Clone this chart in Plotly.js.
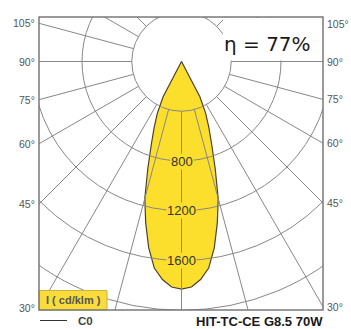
<!DOCTYPE html>
<html><head><meta charset="utf-8">
<script src="https://cdn.plot.ly/plotly-3.0.1.min.js"></script>
<style>
html,body{margin:0;padding:0;width:351px;height:329px;overflow:hidden;background:#fff;}
#clip{position:absolute;left:39px;top:17px;width:284px;height:293px;overflow:hidden;z-index:1;background:#fff;}
.pol{position:absolute;left:-156px;top:-254px;width:597px;height:597px;}
#fillfig{z-index:1;}
#gridfig{z-index:2;}
#over{position:absolute;left:0;top:0;width:351px;height:329px;z-index:3;pointer-events:none;}
</style></head><body>
<div id="clip"><div id="fillfig" class="pol"></div><div id="gridfig" class="pol"></div></div>
<div id="over"></div>
<script>
// ---- data ----
const gammaDeg    = [0, 2.5, 5, 7.5, 10, 12.5, 15, 17.5, 20, 22.5, 25, 27.5, 30];
const intensityC0 = [1830, 1815, 1760, 1675, 1520, 1330, 1140, 900, 710, 575, 460, 320, 0];
const ringValues  = [400, 800, 1200, 1600, 2000];
const ringLabelValues = [800, 1200, 1600];
const angleTicks  = [30, 45, 60, 75, 90, 105];
const spokeStep   = 15;
const efficiencyText = 'η = 77%';
const lampName    = 'HIT-TC-CE G8.5 70W';
const unitLabel   = 'I ( cd/klm )';
const planeName   = 'C0';

// ---- geometry ----
const RMAX = 2400, SIZE = 597, R = SIZE / 2;
const CX = 181.5, CY = 61.5;            // page position of the pole
const scale = R / RMAX;
const FL = 39, FR = 323, FT = 17, FB = 310;
const gridCol = '#878787';

// full symmetric C0 curve (right half then mirrored left half)
const theta = gammaDeg.slice().reverse().concat(gammaDeg.slice(1).map(g => -g));
const rr = intensityC0.slice().reverse().concat(intensityC0.slice(1));

const baseAxes = (bg) => ({
  domain:{x:[0,1],y:[0,1]}, bgcolor:bg,
  radialaxis:{range:[0,RMAX], showticklabels:false, ticks:'', showline:false, showgrid:false},
  angularaxis:{rotation:-90, direction:'counterclockwise', showticklabels:false, ticks:'',
    showline:false, showgrid:false}
});
const figLayout = (polar) => ({
  width: SIZE, height: SIZE, margin:{l:0,r:0,t:0,b:0,pad:0},
  paper_bgcolor:'rgba(0,0,0,0)', showlegend:false, polar: polar
});

// bottom layer: the yellow luminous-intensity curve
Plotly.newPlot('fillfig', [
  {type:'scatterpolar', r: rr, theta: theta, mode:'lines', fill:'toself',
   fillcolor:'#fcde2c', line:{color:'#4a4030', width:1.2}, hoverinfo:'skip'}
], figLayout(baseAxes('#fff')), {staticPlot:true, displayModeBar:false});

// top layer: polar grid (rings = radial gridlines, spokes start at first ring)
const spR = [], spT = [];
for (let a = 0; a < 360; a += spokeStep) { spR.push(ringValues[0], RMAX, null); spT.push(a, a, null); }
const gpol = baseAxes('rgba(0,0,0,0)');
gpol.radialaxis.showgrid = true;
gpol.radialaxis.tickmode = 'array';
gpol.radialaxis.tickvals = ringValues;
gpol.radialaxis.gridcolor = gridCol;
gpol.radialaxis.gridwidth = 1;
Plotly.newPlot('gridfig', [
  {type:'scatterpolar', r: spR, theta: spT, mode:'lines', connectgaps:false,
   line:{color:gridCol, width:1}, hoverinfo:'skip'}
], figLayout(gpol), {staticPlot:true, displayModeBar:false});

// ---- overlay: frame, labels, legend ----
const ann = [];
const lblFont = {family:'Liberation Sans, Arial, sans-serif', size:10.5, color:'#555'};
angleTicks.forEach(a => {
  const t = Math.tan(a * Math.PI / 180);
  const yl = Math.max(CY + (CX - FL) / t, 19);
  const yr = Math.max(CY + (FR - CX) / t, 19);
  ann.push({x:FL-2, y:yl, text:a+'°', xanchor:'right', yanchor:'middle', showarrow:false, font:lblFont});
  ann.push({x:FR+2, y:yr, text:a+'°', xanchor:'left', yanchor:'middle', showarrow:false, font:lblFont});
});
ringLabelValues.forEach(v => {
  ann.push({x:CX, y:CY + v*scale, text:String(v), showarrow:false, xanchor:'center', yanchor:'middle',
    bgcolor:'#fcde2c', borderpad:0, font:{family:'Liberation Sans, Arial, sans-serif', size:13, color:'#333'}});
});
ann.push({x:267, y:44, text:efficiencyText, showarrow:false, xanchor:'center', yanchor:'middle',
  font:{family:'DejaVu Sans, sans-serif', size:20, color:'#1a1a1a'}});
ann.push({x:259, y:321.5, text:'<b>'+lampName+'</b>', showarrow:false, xanchor:'center', yanchor:'middle',
  font:{family:'Liberation Sans, Arial, sans-serif', size:13, color:'#1a1a1a'}});
ann.push({x:73, y:300, text:'<b>'+unitLabel+'</b>', showarrow:false, xanchor:'center', yanchor:'middle',
  font:{family:'Liberation Sans, Arial, sans-serif', size:11, color:'#555'}});
ann.push({x:76, y:320.5, text:'<b>'+planeName+'</b>', showarrow:false, xanchor:'left', yanchor:'middle',
  font:{family:'Liberation Sans, Arial, sans-serif', size:11.5, color:'#444'}});

const shapes = [
  {type:'rect', x0:223, x1:322, y0:18, y1:60.5, fillcolor:'#fff', line:{width:0}},
  {type:'rect', x0:FL, x1:107, y0:290.5, y1:FB, fillcolor:'#f9dc3a', line:{color:'#c8b24a', width:1}},
  {type:'rect', x0:FL, x1:FR, y0:FT, y1:FB, line:{color:'#7a7a7a', width:1.5}},
  {type:'line', x0:40, x1:67, y0:320.5, y1:320.5, line:{color:'#333', width:1}}
];
Plotly.newPlot('over', [], {
  width:351, height:329, margin:{l:0,r:0,t:0,b:0,pad:0},
  paper_bgcolor:'rgba(0,0,0,0)', plot_bgcolor:'rgba(0,0,0,0)', showlegend:false,
  xaxis:{range:[0,351], visible:false, fixedrange:true},
  yaxis:{range:[329,0], visible:false, fixedrange:true},
  shapes: shapes, annotations: ann
}, {staticPlot:true, displayModeBar:false});
</script>
</body></html>
